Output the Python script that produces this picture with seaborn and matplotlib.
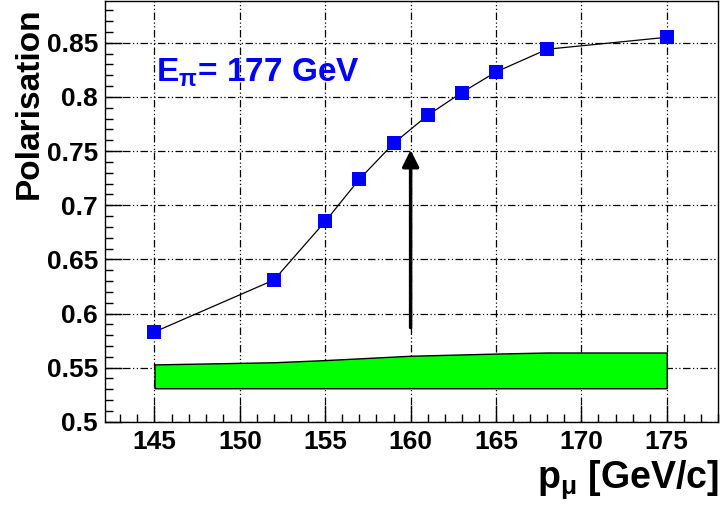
import matplotlib
matplotlib.use("Agg")
import matplotlib.pyplot as plt
from matplotlib.ticker import MultipleLocator
import seaborn as sns
import pandas as pd

# Data
p_mu = [145, 152, 155, 157, 159, 161, 163, 165, 168, 175]
polarisation = [0.583, 0.631, 0.685, 0.724, 0.757, 0.783, 0.804, 0.823, 0.844, 0.855]

band_x = [145, 152, 155, 160, 165, 168, 175]
band_low = [0.531, 0.531, 0.531, 0.531, 0.531, 0.531, 0.531]
band_high = [0.553, 0.555, 0.557, 0.561, 0.563, 0.564, 0.564]

arrow_x = 160
arrow_from = 0.587
arrow_to = 0.751

x_ticks = [145, 150, 155, 160, 165, 170, 175]
y_ticks = [0.5, 0.55, 0.6, 0.65, 0.7, 0.75, 0.8, 0.85]
y_tick_labels = ["0.5", "0.55", "0.6", "0.65", "0.7", "0.75", "0.8", "0.85"]

sns.set_style("ticks")
plt.rcParams['font.family'] = ['Liberation Sans', 'DejaVu Sans']
plt.rcParams['font.weight'] = 'bold'
plt.rcParams['mathtext.fontset'] = 'custom'
plt.rcParams['mathtext.rm'] = 'Liberation Sans:bold'
plt.rcParams['mathtext.it'] = 'Liberation Sans:bold'
plt.rcParams['mathtext.bf'] = 'Liberation Sans:bold'
plt.rcParams['mathtext.sf'] = 'Liberation Sans'
plt.rcParams['text.color'] = 'black'
plt.rcParams['xtick.color'] = 'black'
plt.rcParams['ytick.color'] = 'black'

fig = plt.figure(figsize=(7.22, 5.07), dpi=100)
ax = fig.add_axes([0.1454, 0.168, 0.8490, 0.830])

df = pd.DataFrame({"p": p_mu, "pol": polarisation})

ax.fill_between(band_x, band_low, band_high, facecolor="#00ff00", edgecolor="black", linewidth=1.0, zorder=2)

sns.lineplot(data=df, x="p", y="pol", ax=ax, color="black", linewidth=0.9, zorder=3)
sns.scatterplot(data=df, x="p", y="pol", ax=ax, marker="s", s=90, color="#0000ff", edgecolor="#0000ff", linewidth=0, zorder=4)

ax.annotate("", xy=(arrow_x, arrow_to), xytext=(arrow_x, arrow_from),
            arrowprops=dict(arrowstyle="-|>,head_length=1.0,head_width=0.5", color="black", lw=2.5, shrinkA=0, shrinkB=0),
            zorder=5)

ax.text(145.1, 0.814, r"E$_{\mathsf{π}}$= 177 GeV", color="#0000ff", fontsize=24, fontweight="bold", zorder=6)

ax.set_xlim(142.1, 178.0)
ax.set_ylim(0.5, 0.8885)
ax.set_xticks(x_ticks)
ax.set_yticks(y_ticks)
ax.set_yticklabels(y_tick_labels)
ax.xaxis.set_minor_locator(MultipleLocator(1))
ax.yaxis.set_minor_locator(MultipleLocator(0.01))
ax.tick_params(axis="both", which="major", direction="in", length=12, width=1, labelsize=19, colors="black")
ax.tick_params(axis="x", which="major", pad=6)
ax.tick_params(axis="y", which="major", pad=5)
ax.tick_params(axis="both", which="minor", direction="in", length=6, width=1, colors="black")
for lab in ax.get_xticklabels() + ax.get_yticklabels():
    lab.set_fontweight("bold")
    lab.set_color("black")

ax.grid(True, which="major", color="black", linestyle=(0, (6, 2, 1, 2, 1, 2)), linewidth=0.9)
for s in ax.spines.values():
    s.set_visible(True)
    s.set_linewidth(1.0)
    s.set_color("black")

ax.set_xlabel("")
ax.set_ylabel("")
fig.text(0.040, 0.986, "Polarisation", rotation=90, ha="center", va="top", fontsize=24, fontweight="bold", color="black")
fig.text(0.996, 0.012, r"p$_{\mathsf{μ}}$ [GeV/c]", ha="right", va="bottom", fontsize=27, fontweight="bold", color="black")

fig.savefig("out.png", dpi=100)
